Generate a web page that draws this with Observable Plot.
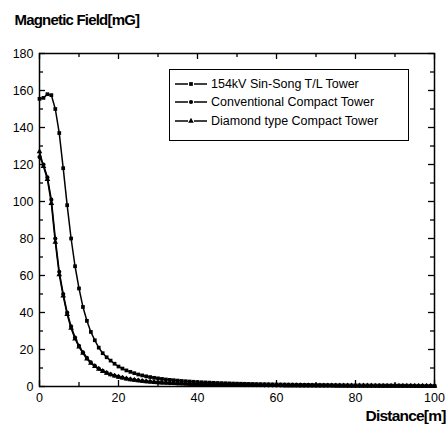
<!DOCTYPE html>
<html>
<head>
<meta charset="utf-8">
<script src="https://cdn.jsdelivr.net/npm/d3@7"></script>
<script src="https://cdn.jsdelivr.net/npm/@observablehq/plot@0.6"></script>
<style>
  html, body { margin: 0; padding: 0; background: #fff; }
  #wrap { position: relative; width: 446px; height: 425px; font-family: "Liberation Sans", Arial, sans-serif; }
  #legend { position: absolute; left: 169px; top: 69px; width: 240px; height: 72px; border: 1px solid #000; background: #fff; box-sizing: border-box; }
  .row { position: absolute; left: 5px; height: 16px; display: flex; align-items: center; font-size: 12.5px; color: #000; white-space: nowrap; }
  .row svg { margin-right: 2px; }
</style>
</head>
<body>
<div id="wrap"></div>
<script>
const seriesNames = ["154kV Sin-Song T/L Tower", "Conventional Compact Tower", "Diamond type Compact Tower"];
const seriesSymbols = ["square", "circle", "triangle"];
const distance = d3.range(0, 101);
const sinSong = [
  155.5,156,158,157.5,150,137,118,98,80,65,53,
  43,35.5,29.5,25,21,18,15.8,14,12.3,10.8,
  9.7,8.7,7.9,7.2,6.5,6,5.5,5.1,4.7,4.4,
  4.1,3.8,3.6,3.4,3.2,3.0,2.85,2.7,2.55,2.4,
  2.3,2.2,2.1,2.0,1.9,1.82,1.75,1.68,1.6,1.55,
  1.5,1.45,1.4,1.35,1.3,1.26,1.22,1.18,1.14,1.1,
  1.07,1.04,1.01,0.98,0.95,0.92,0.89,0.86,0.83,0.8,
  0.78,0.76,0.74,0.72,0.7,0.68,0.66,0.64,0.62,0.6,
  0.59,0.58,0.56,0.55,0.54,0.53,0.51,0.5,0.49,0.47,
  0.46,0.45,0.44,0.43,0.42,0.41,0.4,0.4,0.39,0.38
];
const conventional = [
  124,120,113,101,80,62,50,40,32.5,26.5,22,
  18.5,15.5,13,11.2,9.7,8.5,7.5,6.6,5.9,5.3,
  4.8,4.3,3.9,3.6,3.3,3.0,2.8,2.6,2.4,2.25,
  2.1,2.0,1.85,1.75,1.65,1.56,1.48,1.4,1.33,1.27,
  1.21,1.15,1.1,1.05,1.0,0.96,0.92,0.89,0.86,0.83,
  0.8,0.77,0.75,0.72,0.7,0.68,0.66,0.64,0.62,0.6,
  0.59,0.57,0.56,0.54,0.53,0.52,0.5,0.49,0.48,0.47,
  0.46,0.45,0.44,0.43,0.42,0.41,0.4,0.39,0.38,0.37,
  0.37,0.36,0.35,0.35,0.34,0.33,0.33,0.32,0.32,0.31,
  0.31,0.3,0.3,0.29,0.29,0.28,0.28,0.27,0.27,0.26
];
const diamond = [
  127,119,112,99,78,60.5,49,39,31.5,25.8,21.4,
  18,15,12.6,10.9,9.4,8.2,7.2,6.4,5.7,5.1,
  4.6,4.15,3.75,3.45,3.15,2.9,2.7,2.5,2.3,2.15,
  2.0,1.9,1.78,1.68,1.58,1.5,1.42,1.35,1.28,1.22,
  1.16,1.1,1.05,1.0,0.96,0.92,0.88,0.85,0.82,0.79,
  0.76,0.74,0.71,0.69,0.67,0.65,0.63,0.61,0.59,0.57,
  0.56,0.54,0.53,0.52,0.5,0.49,0.48,0.47,0.46,0.45,
  0.44,0.43,0.42,0.41,0.4,0.39,0.38,0.37,0.36,0.36,
  0.35,0.34,0.34,0.33,0.32,0.32,0.31,0.31,0.3,0.3,
  0.29,0.29,0.28,0.28,0.27,0.27,0.27,0.26,0.26,0.25
];
const xTicks = [0, 20, 40, 60, 80, 100];
const xMinor = [10, 30, 50, 70, 90];
const yTicks = [0, 20, 40, 60, 80, 100, 120, 140, 160, 180];
const yMinor = [10, 30, 50, 70, 90, 110, 130, 150, 170];
const titleText = "Magnetic Field[mG]";
const xLabelText = "Distance[m]";

const allSeries = [sinSong, conventional, diamond];
const rows = [];
allSeries.forEach((vals, s) => vals.forEach((v, i) => rows.push({series: seriesNames[s], x: distance[i], y: v})));

const W = 446, H = 425, ML = 39, MR = 12, MT = 53, MB = 39;
const FW = W - ML - MR, FH = H - MT - MB;
const MAJ = 6, MIN = 4;
const rs = {stroke: "#000", strokeWidth: 1.3};
const chart = Plot.plot({
  width: W,
  height: H,
  marginLeft: ML,
  marginRight: MR,
  marginTop: MT,
  marginBottom: MB,
  style: {fontFamily: "Liberation Sans, Arial, sans-serif", fontSize: "12px", color: "#000", background: "#fff"},
  x: {domain: [0, 100]},
  y: {domain: [0, 180]},
  symbol: {domain: seriesNames, range: seriesSymbols},
  marks: [
    Plot.axisX({ticks: xTicks, tickSize: 0, tickPadding: 7, label: null, fontSize: 12.5}),
    Plot.axisY({ticks: yTicks, tickSize: 0, tickPadding: 6, label: null, fontSize: 12.5}),
    Plot.ruleX(xTicks, {x: d => d, insetTop: FH - MAJ, ...rs}),
    Plot.ruleX(xMinor, {x: d => d, insetTop: FH - MIN, ...rs}),
    Plot.ruleX(xTicks, {x: d => d, insetBottom: FH - MAJ, ...rs}),
    Plot.ruleX(xMinor, {x: d => d, insetBottom: FH - MIN, ...rs}),
    Plot.ruleY(yTicks, {y: d => d, insetRight: FW - MAJ, ...rs}),
    Plot.ruleY(yMinor, {y: d => d, insetRight: FW - MIN, ...rs}),
    Plot.ruleY(yTicks, {y: d => d, insetLeft: FW - MAJ, ...rs}),
    Plot.ruleY(yMinor, {y: d => d, insetLeft: FW - MIN, ...rs}),
    Plot.line(rows, {x: "x", y: "y", z: "series", stroke: "#000", strokeWidth: 1.5}),
    Plot.dot(rows, {x: "x", y: "y", symbol: "series", fill: "#000", stroke: "none", r: 2.1}),
    Plot.frame({stroke: "#000", strokeWidth: 1.5}),
    Plot.text([titleText], {frameAnchor: "top-left", dx: -25, dy: -39, textAnchor: "start", fontWeight: "bold", fontSize: 15, fill: "#000"}),
    Plot.text([xLabelText], {frameAnchor: "bottom-right", dx: 11, dy: 23, lineAnchor: "top", textAnchor: "end", fontWeight: "bold", fontSize: 15.5, fill: "#000"})
  ]
});
chart.querySelectorAll("text").forEach(t => {
  if (t.textContent === titleText || t.textContent === xLabelText) t.style.letterSpacing = "-0.8px";
});
const wrap = document.getElementById("wrap");
wrap.appendChild(chart);

const legend = document.createElement("div");
legend.id = "legend";
const tops = [6, 24, 43];
seriesNames.forEach((name, i) => {
  const row = document.createElement("div");
  row.className = "row";
  row.style.top = tops[i] + "px";
  const sym = d3.symbol(i === 0 ? d3.symbolSquare : i === 1 ? d3.symbolCircle : d3.symbolTriangle, 14)();
  row.innerHTML = `<svg width="34" height="12"><line x1="0" x2="13" y1="6" y2="6" stroke="#000" stroke-width="1.5"/><line x1="19" x2="32" y1="6" y2="6" stroke="#000" stroke-width="1.5"/><path transform="translate(16,6)" d="${sym}" fill="#000"/></svg><span>${name}</span>`;
  legend.appendChild(row);
});
wrap.appendChild(legend);
</script>
</body>
</html>
